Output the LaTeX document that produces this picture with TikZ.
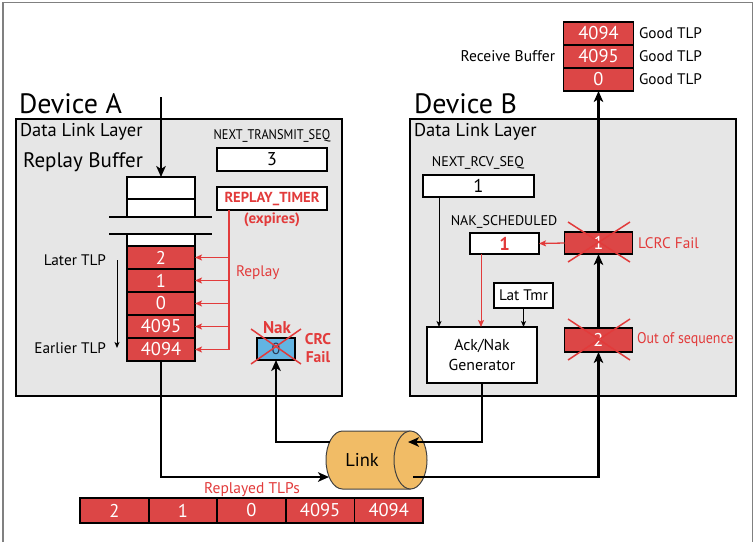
\documentclass[tikz,border=0pt]{standalone}
\usepackage{fontspec}
\setmainfont{PT Sans}
\newfontfamily\condfont[FakeStretch=0.88]{PT Sans}
\newfontfamily\condfontb[FakeStretch=0.9]{PT Sans}
\usetikzlibrary{arrows.meta}
\definecolor{tlpred}{HTML}{DC4646}
\definecolor{txtred}{HTML}{E23B3B}
\definecolor{layergray}{HTML}{E6E6E6}
\definecolor{nakblue}{HTML}{62B4E2}
\definecolor{nakdark}{HTML}{2B3A55}
\definecolor{linkorange}{HTML}{F1BC66}
\newcommand\myfs[1]{\fontsize{#1}{#1}\selectfont}
\begin{document}
\begin{tikzpicture}[x=1pt,y=-1pt,
  every node/.style={inner sep=0pt, outer sep=0pt},
  layer/.style={draw, line width=2pt, fill=layergray, anchor=north west},
  cell/.style={draw, line width=1.8pt, fill=tlpred, text=white, font=\myfs{18.5}, minimum width=68pt, minimum height=23pt},
  whitecell/.style={draw, line width=1.8pt, fill=white, minimum width=68pt},
  regbox/.style={draw, line width=2pt, fill=white, font=\myfs{18.5}},
  lbl/.style={font=\myfs{15.3}},
  redlbl/.style={font=\myfs{15.3}, text=txtred},
  thk/.style={line width=2.2pt},
  thkarrow/.style={line width=2.2pt, -{Stealth[length=11pt,width=9.5pt,inset=3pt]}},
  thinarrow/.style={line width=1pt, -{Stealth[length=6pt,width=5pt,inset=1.5pt]}},
  redarrow/.style={draw=txtred, line width=1.3pt, -{Stealth[length=7pt,width=6pt,inset=1.5pt]}},
  cross/.style={draw=txtred, line width=1.5pt},
]
\useasboundingbox (0,0) rectangle (754,542);
\draw[line width=1.3pt, gray] (3,542) -- (3,2.5) -- (752.5,2.5) -- (752.5,542);

% ---------- Device A ----------
\node[layer, minimum width=326pt, minimum height=277pt] (devA) at (16,119) {};
\node[font=\myfs{28}, anchor=base west] (devAtitle) at (19,113) {Device A};
\node[font=\myfs{18.5}, anchor=base west] (dllA) at (20,136) {Data Link Layer};
\node[font=\myfs{21}, anchor=base west] (rbufA) at (23,167) {Replay Buffer};

\node[whitecell, minimum height=22pt] (rbt1) at (161,188) {};
\node[whitecell, minimum height=18pt] (rbt2) at (161,208) {};
\draw[thk] (109,217) -- (212,217);
\draw[thk] (109,234) -- (212,234);
\node[whitecell, minimum height=12pt] (rbw) at (161,240) {};
\node[cell] (rb2) at (161,257.5) {2};
\node[cell] (rb1) at (161,280.5) {1};
\node[cell] (rb0) at (161,303.5) {0};
\node[cell] (rb4095) at (161,326.5) {4095};
\node[cell] (rb4094) at (161,349.5) {4094};

\coordinate (inA) at (161,97);
\draw[thkarrow] (inA) -- (rbt1.north);

\node[font=\condfont\myfs{14}] (ntslbl) at (272,136) {NEXT\_TRANSMIT\_SEQ};
\node[regbox, minimum width=110pt, minimum height=23pt] (nts) at (272,159.5) {3};
\node[regbox, minimum width=110pt, minimum height=23pt, text=txtred, font=\bfseries\myfs{14.5}] (timer) at (272,198.5) {REPLAY\_TIMER};
\node[text=txtred, font=\bfseries\myfs{15}] (expires) at (272,220) {(expires)};

\coordinate (rv) at ([xshift=12pt]timer.south west);
\draw[redarrow] (rv) |- (rb4094.east);
\foreach \c in {rb2,rb1,rb0,rb4095} \draw[redarrow] (rv |- \c.east) -- (\c.east);
\node[redlbl, anchor=west] (replaylbl) at (236,273) {Replay};

\node[lbl, anchor=east] (later) at (106,260) {Later TLP};
\node[lbl, anchor=east] (earlier) at (106,348) {Earlier TLP};
\coordinate (ordtop) at ([xshift=11pt]later.east);
\draw[thinarrow] (ordtop) -- (ordtop |- earlier.east);

\node[draw, line width=2.5pt, fill=nakblue, minimum width=38pt, minimum height=22pt, font=\myfs{16}, text=nakdark] (nak) at (276,349) {0};
\node[font=\bfseries\myfs{17}, text=txtred] (naklbl) at (277,328) {Nak};
\draw[cross] (251,329) -- (301,364);
\draw[cross] (301,329) -- (251,364);
\node[font=\bfseries\fontsize{15.5}{18}\selectfont, text=txtred, align=center] (crc) at (318,348) {CRC\\Fail};

% ---------- Device B ----------
\node[layer, minimum width=326pt, minimum height=277pt] (devB) at (410,119) {};
\node[font=\myfs{28}, anchor=base west] (devBtitle) at (414,113) {Device B};
\node[font=\myfs{18.5}, anchor=base west] (dllB) at (414,136) {Data Link Layer};

\node[font=\myfs{14}] (nrslbl) at (478,163) {NEXT\_RCV\_SEQ};
\node[regbox, minimum width=111pt, minimum height=22pt] (nrs) at (478.5,186) {1};
\node[font=\myfs{14}] (nslbl) at (504,222) {NAK\_SCHEDULED};
\node[regbox, minimum width=69pt, minimum height=21pt, text=txtred, font=\bfseries\myfs{18.5}] (ns) at (504.5,243.5) {1};

\node[cell, minimum height=22pt] (b1) at (598.5,243) {1};
\node[cell, minimum height=24pt] (b2) at (598.5,340) {2};
\draw[cross] (568,222) -- (630,262);
\draw[cross] (630,222) -- (568,262);
\draw[cross] (568,319) -- (630,360);
\draw[cross] (630,319) -- (568,360);
\node[redlbl, anchor=west] (lcrc) at (638,243) {LCRC Fail};
\node[text=txtred, font=\condfontb\myfs{15.5}, anchor=west] (oos) at (637,340) {Out of sequence};

\node[draw, line width=2pt, fill=white, minimum width=59pt, minimum height=25pt, font=\myfs{15.3}] (lt) at (523.5,295.5) {Lat Tmr};
\node[draw, line width=2pt, fill=white, minimum width=110pt, minimum height=56pt, align=center, font=\fontsize{15.8}{20}\selectfont] (acknak) at (482,355) {Ack/Nak\\Generator};

\coordinate (nrsout) at ([xshift=16pt]nrs.south west);
\draw[thinarrow] (nrsout) -- (nrsout |- acknak.north);
\coordinate (nsout) at ([xshift=11pt]ns.south west);
\draw[redarrow, line width=1pt] (nsout) -- (nsout |- acknak.north);
\draw[thinarrow] (lt.south) -- (lt.south |- acknak.north);
\draw[redarrow] (b1.west) -- (ns.east);

% ---------- Receive buffer ----------
\node[cell, minimum width=70pt] (rx4094) at (598.5,33.5) {4094};
\node[cell, minimum width=70pt] (rx4095) at (598.5,56.5) {4095};
\node[cell, minimum width=70pt] (rx0) at (598.5,79.5) {0};
\node[lbl, anchor=west] (g1) at (639,33.5) {Good TLP};
\node[lbl, anchor=west] (g2) at (639,56.5) {Good TLP};
\node[lbl, anchor=west] (g3) at (639,79.5) {Good TLP};
\node[font=\myfs{15.5}, anchor=east] (rxlbl) at (555,56.5) {Receive Buffer};

\draw[thkarrow] (b1.north) -- (rx0.south);
\draw[thkarrow] (b2.north) -- (b1.south);

% ---------- Link ----------
\path[fill=linkorange, draw=black!75, line width=1pt] (410.5,431) -- (342.5,431) arc[start angle=270, end angle=90, x radius=16.5, y radius=29] -- (410.5,489);
\draw[fill=linkorange, draw=black!75, line width=1pt] (410.5,460) ellipse [x radius=16.5, y radius=29];
\node[font=\myfs{18.5}] (link) at (362,460) {Link};

\coordinate (linkinA) at (329,477);
\coordinate (linkoutA) at (329.5,442);
\coordinate (linkinB) at (408,442);
\coordinate (linkoutB) at (413,477);
\draw[thkarrow] (rb4094.south) |- (linkinA);
\draw[thkarrow] (linkoutA) -| (nak.south);
\draw[thkarrow] (acknak.south) |- (linkinB);
\draw[thkarrow] (linkoutB) -| (b2.south);

% ---------- Replayed TLPs ----------
\node[text=txtred, font=\myfs{15.5}] (replayed) at (252,490) {Replayed TLPs};
\node[cell, minimum width=68.6pt, minimum height=25pt] (rp1) at (114.3,510.5) {2};
\node[cell, minimum width=68.6pt, minimum height=25pt] (rp2) at (182.9,510.5) {1};
\node[cell, minimum width=68.6pt, minimum height=25pt] (rp3) at (251.5,510.5) {0};
\node[cell, minimum width=68.6pt, minimum height=25pt] (rp4) at (320.1,510.5) {4095};
\node[cell, minimum width=68.6pt, minimum height=25pt] (rp5) at (388.7,510.5) {4094};
\end{tikzpicture}
\end{document}
